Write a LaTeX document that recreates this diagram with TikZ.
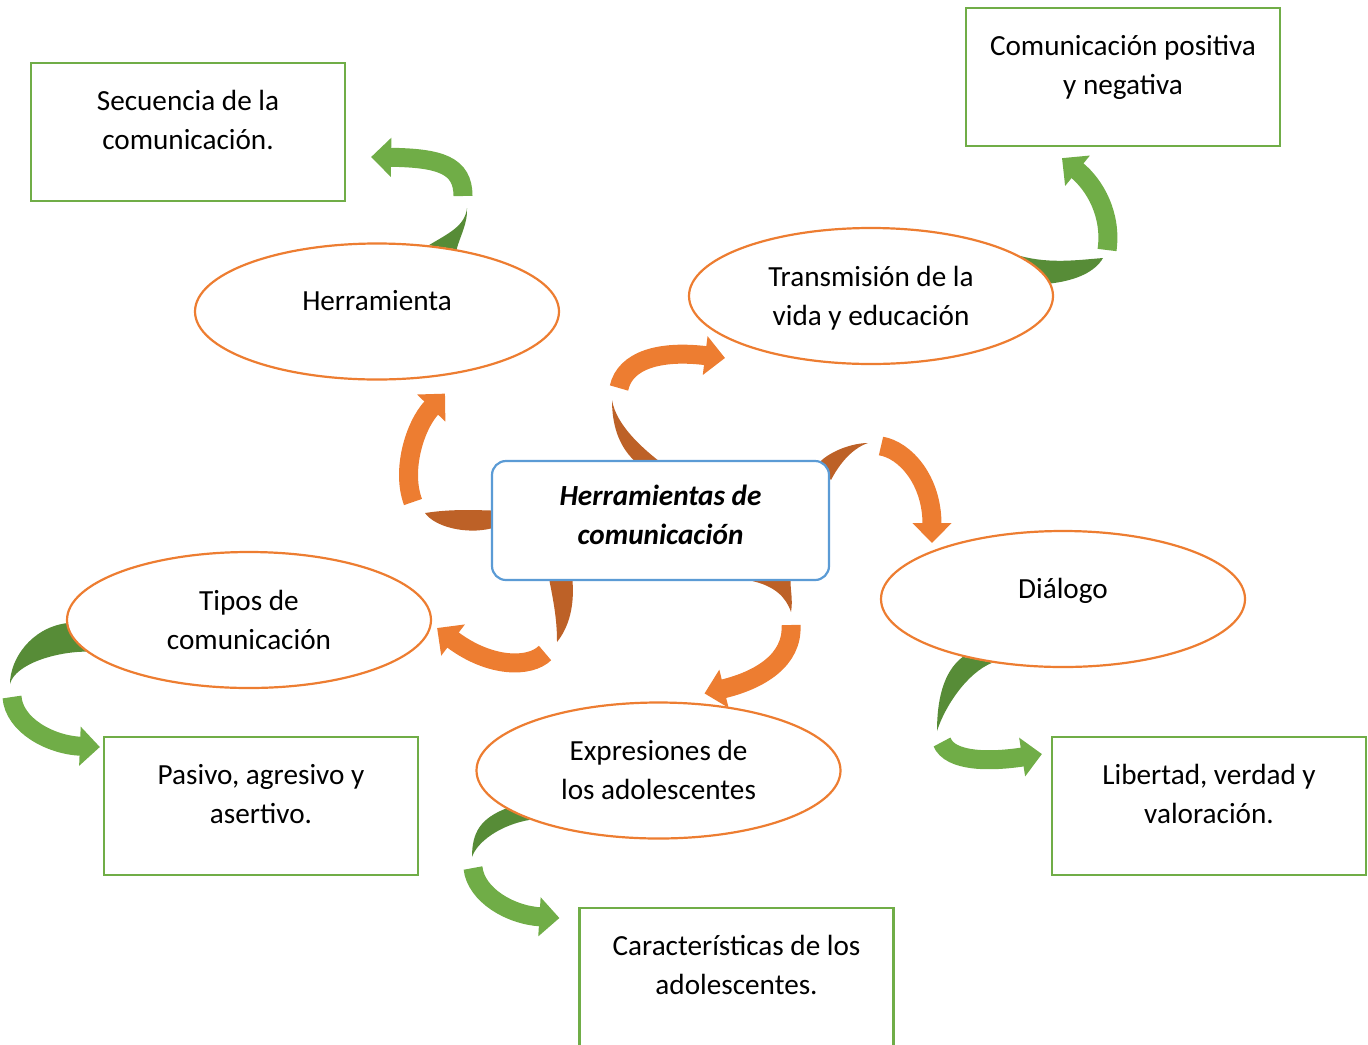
\documentclass[tikz,border=0pt]{standalone}
\usepackage{fontspec}
\setmainfont{Carlito}
\usetikzlibrary{shapes.geometric, arrows.meta, calc, backgrounds}

\definecolor{ringorange}{HTML}{ED7D31}
\definecolor{orangedark}{HTML}{BD6127}
\definecolor{boxgreen}{HTML}{70AD47}
\definecolor{greendark}{HTML}{578C37}
\definecolor{boxblue}{HTML}{5B9BD5}

\begin{document}
\begin{tikzpicture}[x=0.5pt, y=-0.5pt,
        font=\fontsize{14.6}{19.5}\selectfont,
        topic/.style={ellipse, draw=ringorange, line width=1.1pt, fill=white, minimum width=182pt, minimum height=68pt, inner sep=0pt, text width=125pt, align=flush center, text height=11.5pt, text depth=21.5pt},
        detail/.style={rectangle, draw=boxgreen, line width=1.1pt, fill=white, text width=150pt, inner xsep=3.5pt, inner ysep=0pt, align=flush center, text height=23.5pt, text depth=45.5pt},
        hub/.style={rectangle, rounded corners=7pt, draw=boxblue, line width=1.1pt, fill=white, text width=160pt, inner xsep=4.25pt, inner ysep=0pt, align=flush center, text height=22pt, text depth=37.5pt, font=\fontsize{14.6}{19.5}\selectfont\bfseries\itshape},
        obend/.style={draw=ringorange, line width=9.5pt, -{Triangle[length=10pt, width=19pt]}},
        gbend/.style={draw=boxgreen, line width=9.5pt, -{Triangle[length=10pt, width=19pt]}},
        otail/.style={fill=orangedark},
        gtail/.style={fill=greendark}
    ]
        \useasboundingbox (0,0) rectangle (1368,1044);
        \clip (0,0) rectangle (1368,1044);

        \node[hub] (cen) at (660.5,520.5) {Herramientas de\\comunicación};

        \node[topic, text height=10pt, text depth=11pt] (herr) at (377,311.5) {Herramienta};
        \node[topic] (trans) at (871,296) {Transmisión de la\\vida y educación};
        \node[topic] (tipos) at (249,620) {Tipos de\\comunicación};
        \node[topic, text height=10pt, text depth=11pt] (dial) at (1063,599) {Diálogo};
        \node[topic] (expr) at (658.5,770.5) {Expresiones de\\los adolescentes};

        \node[detail] (sec) at (188,132) {Secuencia de la\\comunicación.};
        \node[detail] (posit) at (1123,77) {Comunicación positiva\\y negativa};
        \node[detail] (pasivo) at (261,806) {Pasivo, agresivo y\\asertivo.};
        \node[detail] (libert) at (1209,806) {Libertad, verdad y\\valoración.};
        \node[detail] (carac) at (736.5,977) {Características de los\\adolescentes.};

        \begin{pgfonlayer}{background}
        \fill[otail] ($(cen.west)+(0,-10)$) .. controls +(-30,-1) and +(20,-3) .. (425,513)
            .. controls +(10,14) and +(-25,6) .. ($(cen.west)+(0,8)$) -- cycle;
        \draw[obend] (413,502) .. controls (401,470) and (415,425) .. ($(herr.south)+(68,13)$);

        \fill[otail] ($(cen.north)+(-27,0)$) .. controls +(-15,-15) and +(0,25) .. (612,400)
            .. controls +(4,25) and +(-15,-12) .. ($(cen.north)+(-3,0)$) -- cycle;
        \draw[obend] (619,388) .. controls (625,360) and (660,350) .. ($(trans.center)+(-146,62)$);

        \fill[otail] ($(cen.north east)+(-14,6)$) .. controls +(12,-15) and +(-15,0) .. (868,443)
            .. controls +(-18,6) and +(6,-12) .. ($(cen.north east)+(1,20)$) -- cycle;
        \draw[obend] (881,446) .. controls (905,450) and (932,480) .. ($(dial.center)+(-131,-56)$);

        \fill[otail] ($(cen.south)+(-111,0)$) .. controls +(5,25) and +(0,-20) .. (557,642)
            .. controls +(12,-15) and +(2,25) .. ($(cen.south)+(-88,0)$) -- cycle;
        \draw[obend] (545,653) .. controls (530,668) and (490,668) .. ($(tipos.east)+(5,8)$);

        \fill[otail] ($(cen.south)+(92,0)$) .. controls +(22,5) and +(-5,-15) .. (791,612)
            .. controls +(2,-12) and +(0,10) .. ($(cen.south)+(130,0)$) -- cycle;
        \draw[obend] (791,625) .. controls (793,660) and (760,680) .. ($(expr.north)+(46,-8)$);

        \fill[gtail] (herr.52) .. controls +(20,-12) and +(-2,18) .. (467,208)
            .. controls +(1,15) and +(3,-12) .. (herr.38) -- cycle;
        \draw[gbend] (463,196) .. controls (463,165) and (440,158) .. ($(sec.east)+(25,25)$);

        \fill[gtail] (trans.15) .. controls +(30,8) and +(-25,2) .. (1103,258)
            .. controls +(-8,14) and +(25,-3) .. (trans.4) -- cycle;
        \draw[gbend] (1107,250) .. controls (1112,215) and (1095,185) .. ($(posit.south)+(-61,11)$);

        \fill[gtail] (tipos.181) .. controls +(-35,5) and +(0,-25) .. (10,684)
            .. controls +(5,-20) and +(-30,0) .. (tipos.191) -- cycle;
        \draw[gbend] (12,697) .. controls (14,725) and (50,745) .. ($(pasivo.west)+(-3,-59)$);

        \fill[gtail] (dial.210) .. controls +(-20,15) and +(0,-30) .. (937,731)
            .. controls +(8,-25) and +(-25,10) .. (dial.222) -- cycle;
        \draw[gbend] (942,742) .. controls (950,762) and (990,762) .. ($(libert.west)+(-9,-52)$);

        \fill[gtail] (expr.194) .. controls +(-25,10) and +(0,-25) .. (472,857)
            .. controls +(5,-15) and +(-30,5) .. (expr.201) -- cycle;
        \draw[gbend] (473,868) .. controls (476,895) and (510,915) .. ($(carac.west)+(-19,-59)$);
        \end{pgfonlayer}
    \end{tikzpicture}
\end{document}
